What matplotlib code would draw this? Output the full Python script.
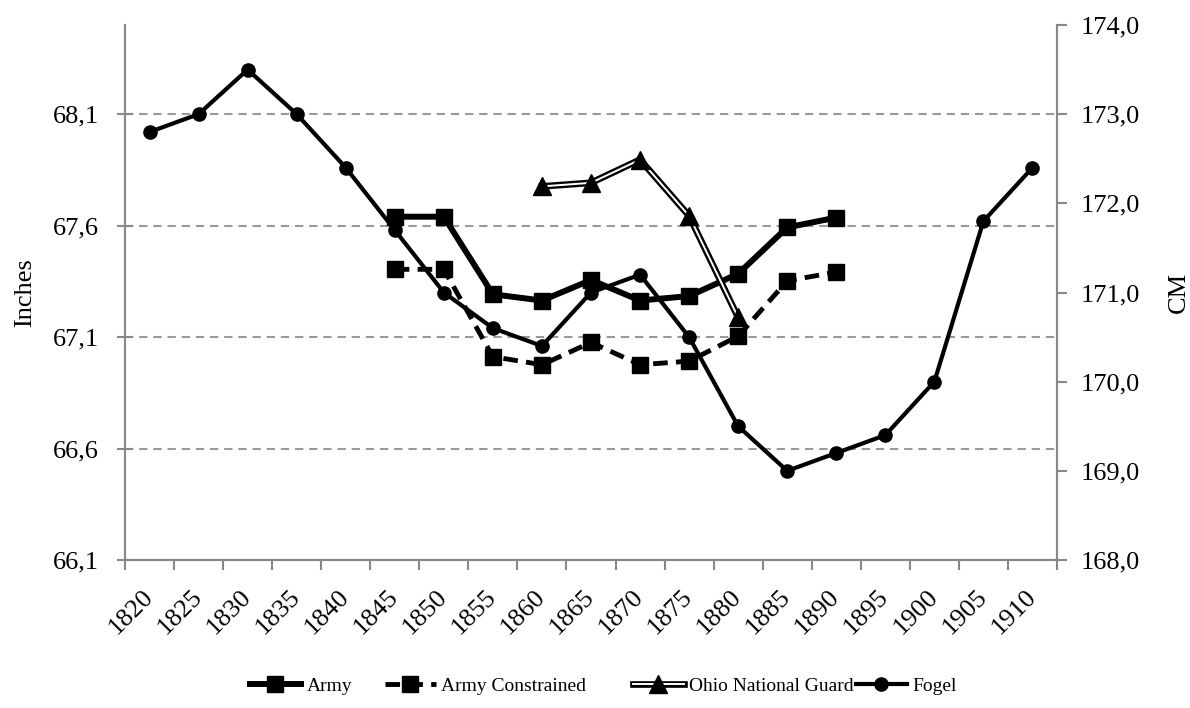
import numpy as np
import matplotlib
matplotlib.use("Agg")
import matplotlib.pyplot as plt
import matplotlib.patheffects as pe
from matplotlib.legend_handler import HandlerTuple

plt.rcParams['font.family'] = ['Liberation Serif', 'DejaVu Serif']

years = [str(y) for y in range(1820, 1911, 5)]

# heights in cm, one value per 5-year cohort (None = no data)
army = [None]*5 + [171.85, 171.85, 170.98, 170.91, 171.14, 170.91, 170.96, 171.21, 171.73, 171.84] + [None]*4
army_constrained = [None]*5 + [171.26, 171.26, 170.28, 170.19, 170.44, 170.19, 170.23, 170.51, 171.13, 171.23] + [None]*4
ohio = [None]*8 + [172.19, 172.23, 172.49, 171.86, 170.72] + [None]*6
fogel = [172.8, 173.0, 173.5, 173.0, 172.4, 171.7, 171.0, 170.6, 170.4, 171.0,
         171.2, 170.5, 169.5, 169.0, 169.2, 169.4, 170.0, 171.8, 172.4]
names = ['Army', 'Army Constrained', 'Ohio National Guard', 'Fogel']

inch_ticks = [66.1, 66.6, 67.1, 67.6, 68.1]
cm_ticks = [168, 169, 170, 171, 172, 173, 174]


def arr(v):
    return np.array([np.nan if a is None else a for a in v], dtype=float)


x = np.arange(len(years))
gray = '#888888'
fs = 19

fig = plt.figure(figsize=(11.9, 7.08), dpi=100)
ax = fig.add_axes([125/1190, 1-560/708, (1057-125)/1190, (560-25)/708])
ax2 = ax.twinx()

# left axis (inches) carries the gridlines
ax.set_ylim(66.1, 68.5)
ax.set_yticks(inch_ticks)
ax.set_yticklabels([('%.1f' % t).replace('.', ',') for t in inch_ticks], fontsize=fs)
ax.yaxis.grid(True, color='#999999', linestyle=(0, (4, 2.8)), linewidth=1.5)
ax.set_axisbelow(True)
ax.set_ylabel('Inches', fontsize=fs, labelpad=12)
ax.tick_params(axis='y', direction='inout', length=12, width=1.5, color=gray, pad=13)

ax.set_xlim(-0.5, len(years) - 0.5)
ax.set_xticks(x)
ax.set_xticklabels(years, rotation=45, ha='right', va='center', rotation_mode='anchor', fontsize=fs)
ax.set_xticks(np.arange(-0.5, len(years)), minor=True)
ax.tick_params(axis='x', which='major', length=0, pad=24)
ax.tick_params(axis='x', which='minor', direction='out', length=7, width=1.5, color=gray)

for a in (ax, ax2):
    a.spines['top'].set_visible(False)
    for s in ('left', 'right', 'bottom'):
        a.spines[s].set_color(gray)
        a.spines[s].set_linewidth(1.5)

# right axis (cm) carries the data
ax2.set_ylim(168, 174)
ax2.set_yticks(cm_ticks)
ax2.set_yticklabels([('%.1f' % t).replace('.', ',') for t in cm_ticks], fontsize=fs)
ax2.set_ylabel('CM', fontsize=fs, labelpad=20)
ax2.tick_params(axis='y', direction='out', length=7, width=1.5, color=gray, pad=10)

h1, = ax2.plot(x, arr(army), color='black', lw=4.3, marker='s', ms=12)
h2, = ax2.plot(x, arr(army_constrained), color='black', lw=3.5, ls=(0, (3, 1.7)), marker='s', ms=12)
# double line: black stroke with a white core, triangles drawn on top
h3a, = ax2.plot(x, arr(ohio), color='white', lw=1.4,
                path_effects=[pe.Stroke(linewidth=4.8, foreground='black'), pe.Normal()])
h3b, = ax2.plot(x, arr(ohio), ls='none', marker='^', ms=13, color='black')
h4, = ax2.plot(x, arr(fogel), color='black', lw=3, marker='o', ms=9.5)

# legend entries placed one by one, like the original's uneven spacing
handles = [h1, h2, (h3a, h3b), h4]
starts = [250, 385, 633, 856]
for h, name, x0 in zip(handles, names, starts):
    fig.legend([h], [name], handler_map={tuple: HandlerTuple(ndivide=1, pad=0)},
               loc='center left', bbox_to_anchor=(x0/1190, 1-686/708), frameon=False,
               borderaxespad=0, borderpad=0, fontsize=14, handlelength=2.6, handletextpad=0.3)

fig.savefig('out.png', dpi=100)
